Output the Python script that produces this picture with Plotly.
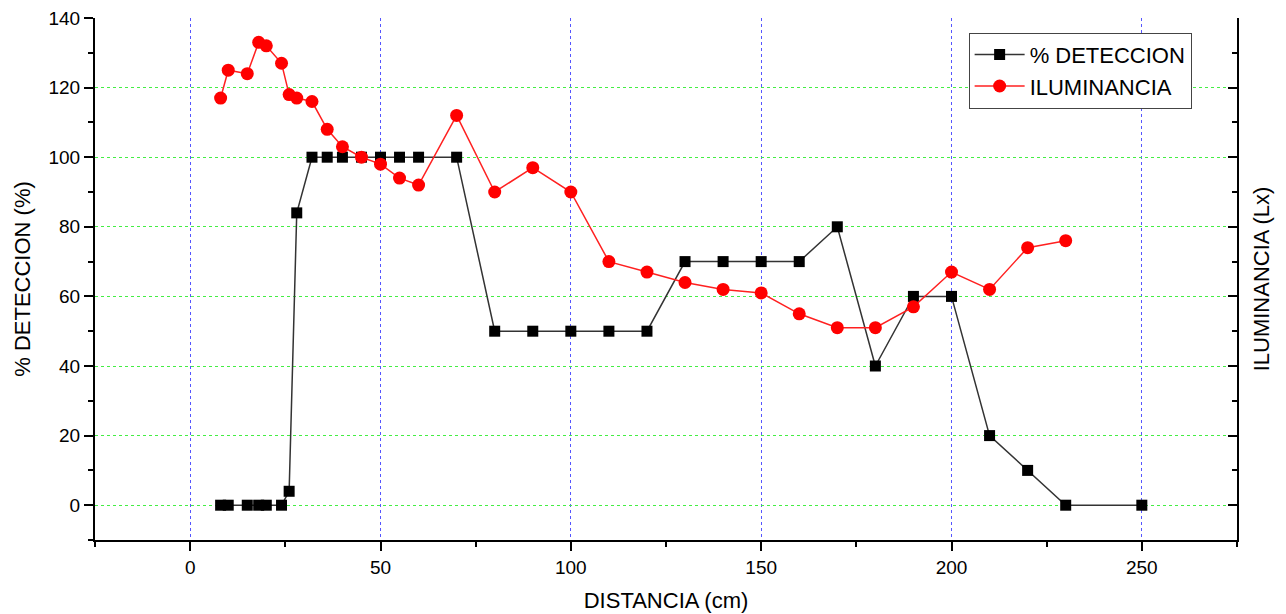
import plotly.graph_objects as go

det_x = [8, 10, 15, 18, 20, 24, 26, 28, 32, 36, 40, 45, 50, 55, 60, 70, 80, 90, 100, 110, 120,
         130, 140, 150, 160, 170, 180, 190, 200, 210, 220, 230, 250]
det_y = [0, 0, 0, 0, 0, 0, 4, 84, 100, 100, 100, 100, 100, 100, 100, 100, 50, 50, 50, 50, 50,
         70, 70, 70, 70, 80, 40, 60, 60, 20, 10, 0, 0]

ilu_x = [8, 10, 15, 18, 20, 24, 26, 28, 32, 36, 40, 45, 50, 55, 60, 70, 80, 90, 100, 110, 120,
         130, 140, 150, 160, 170, 180, 190, 200, 210, 220, 230]
ilu_y = [117, 125, 124, 133, 132, 127, 118, 117, 116, 108, 103, 100, 98, 94, 92, 112, 90, 97, 90,
         70, 67, 64, 62, 61, 55, 51, 51, 57, 67, 62, 74, 76]

FONT = "Liberation Sans"

fig = go.Figure()
fig.add_trace(go.Scatter(
    x=det_x, y=det_y, name="% DETECCION", mode="lines+markers",
    line=dict(color="#333333", width=1.5),
    marker=dict(symbol="square", size=11, color="black"),
    xaxis="x", yaxis="y"))
fig.add_trace(go.Scatter(
    x=ilu_x, y=ilu_y, name="ILUMINANCIA", mode="lines+markers",
    line=dict(color="#ff2020", width=1.5),
    marker=dict(symbol="circle", size=13, color="#ff0000"),
    xaxis="x", yaxis="y2"))

xr = [-25, 275]
yr = [-10, 140]

fig.update_layout(
    width=1286, height=614,
    margin=dict(l=95, r=49, t=18, b=74, autoexpand=False),
    paper_bgcolor="white", plot_bgcolor="white",
    font=dict(family=FONT, size=19, color="black"),
    showlegend=True,
    legend=dict(x=0.765, y=0.972, xanchor="left", yanchor="top",
                bordercolor="#444444", borderwidth=1, bgcolor="white",
                font=dict(size=22), itemwidth=50, tracegroupgap=0),
    xaxis=dict(range=xr, tick0=0, dtick=50, ticks="outside", ticklen=9, tickwidth=2,
               tickcolor="black", showline=True, linewidth=2, linecolor="black",
               showgrid=True, gridcolor="#5555ff", griddash="dot", gridwidth=1,
               zeroline=False, anchor="y", automargin=False,
               minor=dict(dtick=25, tick0=0, ticks="outside", ticklen=5, tickwidth=2,
                          tickcolor="black", showgrid=False),
               title=dict(text="DISTANCIA (cm)", font=dict(size=22), standoff=16)),
    xaxis2=dict(range=xr, overlaying="x", side="top", anchor="y", tick0=0, dtick=50,
                ticks="inside", ticklen=9, tickwidth=2, tickcolor="black",
                showline=True, linewidth=2, linecolor="black", showticklabels=False,
                showgrid=False, zeroline=False, automargin=False,
                minor=dict(dtick=25, tick0=0, ticks="inside", ticklen=5, tickwidth=2,
                           tickcolor="black", showgrid=False)),
    yaxis=dict(range=yr, tick0=0, dtick=20, ticks="outside", ticklen=9, tickwidth=2,
               tickcolor="black", showline=True, linewidth=2, linecolor="black",
               showgrid=True, gridcolor="#44ee44", griddash="dot", gridwidth=1,
               zeroline=False, automargin=False,
               minor=dict(dtick=10, tick0=0, ticks="outside", ticklen=5, tickwidth=2,
                          tickcolor="black", showgrid=False),
               title=dict(text="% DETECCION (%)", font=dict(size=22), standoff=12)),
    yaxis2=dict(range=yr, overlaying="y", side="right", anchor="x", tick0=0, dtick=20,
                ticks="inside", ticklen=9, tickwidth=2, tickcolor="black",
                showline=True, linewidth=2, linecolor="black", showticklabels=False,
                showgrid=False, zeroline=False, automargin=False,
                minor=dict(dtick=10, tick0=0, ticks="inside", ticklen=5, tickwidth=2,
                           tickcolor="black", showgrid=False),
                title=dict(text="ILUMINANCIA (Lx)", font=dict(size=22), standoff=16)),
)

fig.write_html("out.html")
